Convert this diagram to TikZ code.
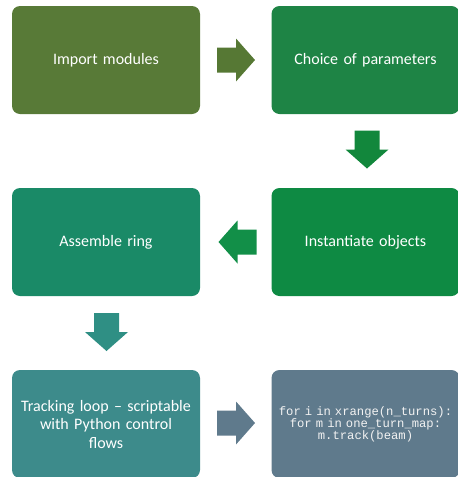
\documentclass[tikz,border=0pt]{standalone}
\usepackage{fontspec}
\setmainfont{Carlito}
\newfontfamily\codefont{Liberation Mono}
\definecolor{cA}{RGB}{88,122,55}
\definecolor{cB}{RGB}{30,132,69}
\definecolor{cC}{RGB}{26,138,103}
\definecolor{cD}{RGB}{14,138,67}
\definecolor{cE}{RGB}{61,139,139}
\definecolor{cF}{RGB}{95,122,140}
\definecolor{aA}{RGB}{86,120,52}
\definecolor{aB}{RGB}{18,135,60}
\definecolor{aC}{RGB}{18,143,72}
\definecolor{aD}{RGB}{47,143,132}
\definecolor{aE}{RGB}{95,122,140}
\begin{document}
\begin{tikzpicture}[x=1pt,y=-1pt,
  box/.style={rounded corners=8pt, minimum width=188pt, minimum height=108pt,
    inner sep=4pt, text=white, align=center, font=\fontsize{16}{18.5}\selectfont, text width=180pt},
  barrow/.pic={\fill (-19,-12.5) -- (0,-12.5) -- (0,-21.5) -- (19,0) -- (0,21.5) -- (0,12.5) -- (-19,12.5) -- cycle;}
]
\useasboundingbox (0,0) rectangle (458,477);
\node[box, fill=cA] (b1) at (106,60) {Import modules};
\node[box, fill=cB] (b2) at (365.5,60) {Choice of parameters};
\node[box, fill=cC] (b3) at (106,242) {Assemble ring};
\node[box, fill=cD] (b4) at (365.5,242) {Instantiate objects};
\node[box, fill=cE] (b5) at (106,424) {Tracking loop -- scriptable\\with Python control\\flows};
\node[box, fill=cF, text=white!90!gray, font=\codefont\fontsize{12.2}{12}\selectfont] (b6) at (365.5,424)
  {for i in xrange(n\_turns):\\for m in one\_turn\_map:\\m.track(beam)};
\pic[aA] at (236,60) {barrow};
\pic[aB, rotate=-90] at (367,149.5) {barrow};
\pic[aC, rotate=180] at (237.5,242) {barrow};
\pic[aD, rotate=-90] at (106.5,332) {barrow};
\pic[aE] at (236,423) {barrow};
\end{tikzpicture}
\end{document}
